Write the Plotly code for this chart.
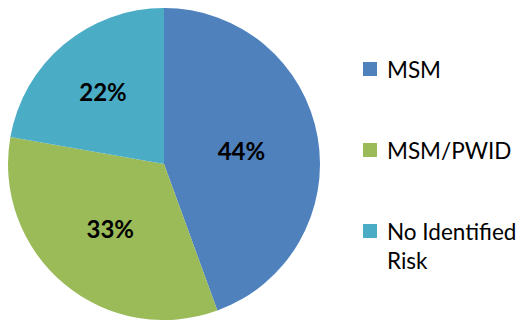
import plotly.graph_objects as go

labels = ["MSM", "MSM/PWID", "No Identified Risk"]
legend_text = ["MSM", "MSM/PWID", "No Identified<br>Risk"]
values = [4, 3, 2]
colors = ["#4F81BD", "#9BBB59", "#4BACC6"]

W, H = 527, 320
FONT = "Lato"

fig = go.Figure(go.Pie(
    labels=labels,
    values=values,
    marker=dict(colors=colors, line=dict(width=0)),
    sort=False,
    direction="clockwise",
    rotation=0,
    texttemplate="<b>%{percent:.0%}</b>",
    textposition="inside",
    insidetextorientation="horizontal",
    textfont=dict(family=FONT, size=24, color="black"),
    showlegend=False,
    hoverinfo="label+percent",
    domain=dict(x=[7 / W, 321 / W], y=[0, 1 - 8 / H]),
))

# legend drawn manually for spacing that matches the reference
sq_x0, sq_size = 363, 14
text_x = 385
item_y = [69, 150, 231]
shapes = []
annotations = []
for lab, col, yc in zip(legend_text, colors, item_y):
    shapes.append(dict(type="rect", xref="paper", yref="paper",
                       x0=sq_x0 / W, x1=(sq_x0 + sq_size) / W,
                       y0=1 - (yc + sq_size / 2) / H, y1=1 - (yc - sq_size / 2) / H,
                       fillcolor=col, line=dict(width=0)))
    annotations.append(dict(text=lab, xref="paper", yref="paper",
                            x=text_x / W, y=1 - (yc - 15) / H,
                            xanchor="left", yanchor="top", align="left",
                            showarrow=False,
                            font=dict(family=FONT, size=22.5, color="black")))

fig.update_layout(
    width=W, height=H,
    margin=dict(l=0, r=0, t=0, b=0),
    paper_bgcolor="white",
    plot_bgcolor="white",
    shapes=shapes,
    annotations=annotations,
)

fig.write_html("out.html")
